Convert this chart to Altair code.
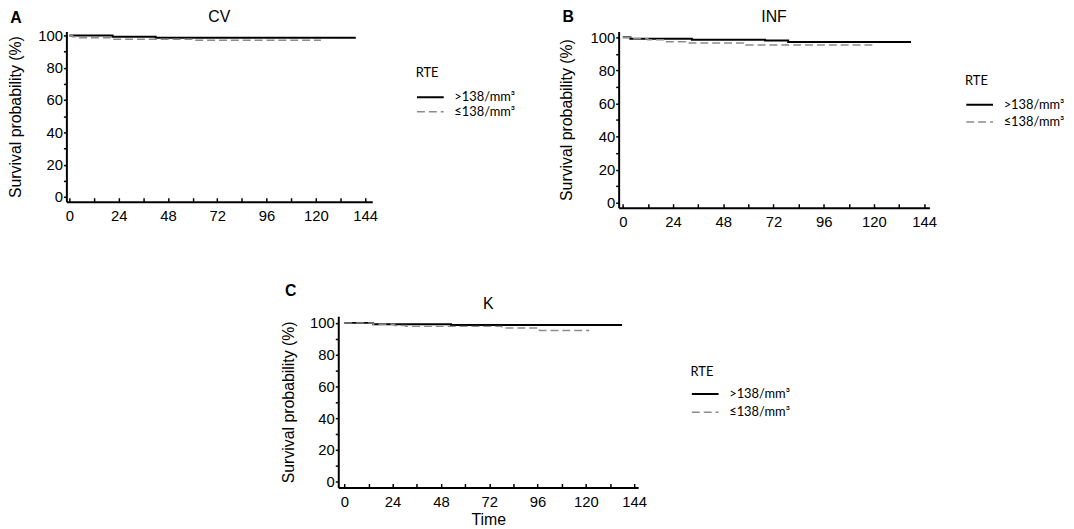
import altair as alt
import pandas as pd

# ---------------- data ----------------
panel_letters = ["A", "B", "C"]
panel_names = ["CV", "INF", "K"]
groups = [">138/mm³", "≤138/mm³"]
legend_title = "RTE"
y_title = "Survival probability (%)"
x_title = "Time"

# CV
cv_hi_t = [0, 21, 42, 139.5]
cv_hi_s = [100, 99.2, 98.6, 98.6]
cv_lo_t = [0, 1.5, 3, 21, 60, 122.5]
cv_lo_s = [100, 99.2, 98.6, 97.7, 97.0, 97.0]

# INF
inf_hi_t = [0, 3.6, 33, 68, 79, 137.7]
inf_hi_s = [100, 99.1, 98.5, 98.1, 97.1, 97.1]
inf_lo_t = [0, 3.6, 12, 20, 30, 58.8, 121]
inf_lo_s = [100, 99.1, 98.5, 97.3, 96.6, 95.3, 95.3]

# K
k_hi_t = [0, 14.3, 53, 138]
k_hi_s = [100, 99.1, 98.7, 98.7]
k_lo_t = [0, 14.3, 25, 30.6, 78.3, 97, 121.7]
k_lo_s = [100, 99.1, 98.4, 97.8, 96.8, 95.2, 95.2]

x_ticks = [0, 12, 24, 36, 48, 60, 72, 84, 96, 108, 120, 132, 144]
y_ticks = [0, 10, 20, 30, 40, 50, 60, 70, 80, 90, 100]

AX_FONT = "Liberation Sans"
LEG_FONT = "Lato"


def panel(hi_t, hi_s, lo_t, lo_s, letter, name, w, h, xdom, ydom,
          legx, legy, rowpad, titlepad, letter_xy, name_y, ytitle_x, show_time):
    df = pd.DataFrame({
        "time": hi_t + lo_t,
        "surv": hi_s + lo_s,
        "RTE": [groups[0]] * len(hi_t) + [groups[1]] * len(lo_t),
    })
    leg = alt.Legend(
        orient="none", legendX=legx, legendY=legy, title=legend_title,
        symbolType="M-1,0H3", symbolSize=182, labelOffset=23,
        rowPadding=rowpad, titlePadding=titlepad,
        titleFont=LEG_FONT, titleFontSize=13, titleFontWeight="normal", titleColor="black",
        labelFont=LEG_FONT, labelFontSize=13, labelColor="black",
    )
    xaxis = alt.Axis(
        values=x_ticks, labelExpr="datum.value % 24 === 0 ? datum.label : ''",
        tickSize={"expr": "-4"}, tickWidth=1.5, tickColor="black",
        domainColor="black", domainWidth=2, labelPadding=11,
        labelFont=AX_FONT, labelFontSize=15, labelColor="black", grid=False,
        titleFont=AX_FONT, titleFontSize=16, titleFontWeight="normal", titleColor="black",
        titleX=w / 2, titleY=32, titleBaseline="middle", titleAlign="center",
    )
    yaxis = alt.Axis(
        values=y_ticks, labelExpr="datum.value % 20 === 0 ? datum.label : ''",
        tickSize=3, tickWidth=1.5, tickColor="black",
        domainColor="black", domainWidth=2, labelPadding=1,
        labelFont=AX_FONT, labelFontSize=15, labelColor="black", grid=False,
        titleFont=AX_FONT, titleFontSize=16, titleFontWeight="normal", titleColor="black",
        titleX=ytitle_x, titleY=h / 2, titleBaseline="middle", titleAlign="center",
    )
    lines = alt.Chart(df).mark_line(interpolate="step-after").encode(
        x=alt.X("time:Q", scale=alt.Scale(domain=xdom, nice=False, zero=False),
                axis=xaxis, title=x_title if show_time else ""),
        y=alt.Y("surv:Q", scale=alt.Scale(domain=ydom, nice=False, zero=False),
                axis=yaxis, title=y_title),
        color=alt.Color("RTE:N", scale=alt.Scale(domain=groups, range=["#000000", "#8c8c8c"]),
                        legend=leg),
        strokeDash=alt.StrokeDash("RTE:N", scale=alt.Scale(domain=groups, range=[[1, 0], [8, 4]]),
                                  legend=leg),
        strokeWidth=alt.StrokeWidth("RTE:N", scale=alt.Scale(domain=groups, range=[2, 1.5]),
                                    legend=leg),
        detail="RTE:N",
    )
    letter_txt = alt.Chart(pd.DataFrame({"t": [letter]})).mark_text(
        font=AX_FONT, fontSize=16, fontWeight="bold", align="center", baseline="middle", color="black"
    ).encode(text="t:N", x=alt.value(letter_xy[0]), y=alt.value(letter_xy[1]))
    name_txt = alt.Chart(pd.DataFrame({"t": [name]})).mark_text(
        font=AX_FONT, fontSize=16, align="center", baseline="middle", color="black"
    ).encode(text="t:N", x=alt.value(w / 2), y=alt.value(name_y))
    return alt.layer(lines, letter_txt, name_txt).properties(width=w, height=h)


pA = panel(cv_hi_t, cv_hi_s, cv_lo_t, cv_lo_s, panel_letters[0], panel_names[0],
           309, 172, [-1.5, 147.5], [-3, 102.5],
           353, 35.5, 0, 10, (-51, -14), -14.5, -51.5, False)
pB = panel(inf_hi_t, inf_hi_s, inf_lo_t, inf_lo_s, panel_letters[1], panel_names[1],
           314, 178, [-2, 146.5], [-3, 103.5],
           350, 44, 3, 9, (-51, -14.3), -14.8, -53, False)
pC = panel(k_hi_t, k_hi_s, k_lo_t, k_lo_s, panel_letters[2], panel_names[2],
           303, 173, [-3, 146], [-3.7, 104.2],
           356, 50.5, 4, 7, (-48, -25), -12, -50, True)

spacer = alt.Chart(pd.DataFrame({"v": [0]})).mark_point(opacity=0).encode(
    x=alt.value(0), y=alt.value(0)).properties(width=200, height=10)

res = dict(color="independent", strokeDash="independent", strokeWidth="independent")
top = alt.hconcat(pA, pB, spacing=249, bounds="flush").resolve_scale(**res)
bottom = alt.hconcat(spacer, pC, spacing=74.7, bounds="flush").resolve_scale(**res)
chart = alt.vconcat(top, bottom, spacing=287.7, bounds="flush").resolve_scale(**res).properties(
    padding={"left": -2, "top": -3, "right": 0, "bottom": 0}, background="white"
).configure_view(stroke="transparent")

chart.save("out.html", embed_options={"renderer": "svg", "actions": False})
